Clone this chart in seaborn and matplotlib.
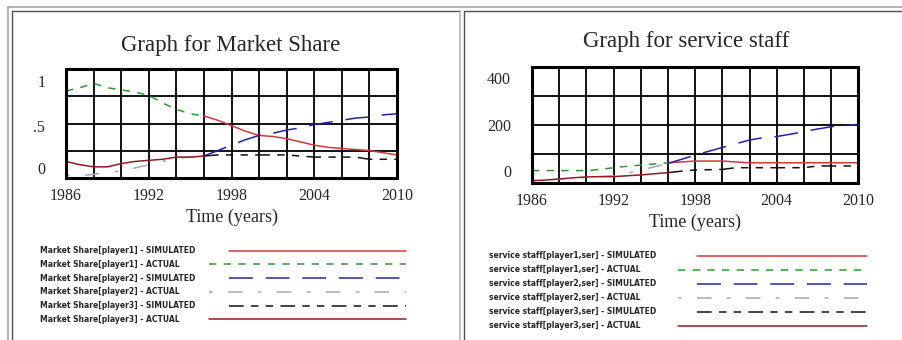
import numpy as np
import matplotlib
matplotlib.use("Agg")
import matplotlib.pyplot as plt
from matplotlib.lines import Line2D
from matplotlib.transforms import ScaledTranslation
import seaborn as sns

# -----------------------
# Data
# -----------------------
years_actual = list(range(1986, 1997))
years_sim = list(range(1996, 2011))

share_p1_actual = [0.80, 0.83, 0.87, 0.83, 0.81, 0.79, 0.76, 0.69, 0.63, 0.59, 0.57]
share_p2_actual = [0.02, 0.02, 0.03, 0.05, 0.06, 0.09, 0.12, 0.15, 0.18, 0.19, 0.20]
share_p3_actual = [0.15, 0.12, 0.10, 0.10, 0.13, 0.15, 0.16, 0.17, 0.19, 0.19, 0.20]
share_p1_sim = [0.57, 0.53, 0.48, 0.43, 0.39, 0.38, 0.36, 0.33, 0.30, 0.28, 0.27, 0.26, 0.25, 0.23, 0.21]
share_p2_sim = [0.20, 0.25, 0.30, 0.35, 0.39, 0.41, 0.44, 0.46, 0.49, 0.51, 0.53, 0.55, 0.56, 0.58, 0.59]
share_p3_sim = [0.20, 0.21, 0.21, 0.21, 0.21, 0.21, 0.21, 0.20, 0.19, 0.19, 0.19, 0.19, 0.17, 0.17, 0.17]

staff_p1_actual = [42, 42, 42, 42, 42, 46, 52, 57, 61, 65, 69]
staff_p2_actual = [7, 9, 12, 15, 18, 21, 24, 33, 44, 55, 67]
staff_p3_actual = [7, 9, 13, 17, 20, 21, 21, 24, 27, 31, 35]
staff_p1_sim = [69, 72, 75, 75, 75, 72, 69, 69, 69, 69, 69, 69, 69, 69, 69]
staff_p2_sim = [67, 81, 96, 109, 122, 135, 148, 156, 160, 168, 177, 186, 194, 198, 202]
staff_p3_sim = [35, 40, 44, 45, 46, 52, 52, 52, 52, 52, 52, 58, 58, 58, 58]

share_labels = ["Market Share[player1] - SIMULATED", "Market Share[player1] - ACTUAL",
                "Market Share[player2] - SIMULATED", "Market Share[player2] - ACTUAL",
                "Market Share[player3] - SIMULATED", "Market Share[player3] - ACTUAL"]
staff_labels = ["service staff[player1,ser] - SIMULATED", "service staff[player1,ser] - ACTUAL",
                "service staff[player2,ser] - SIMULATED", "service staff[player2,ser] - ACTUAL",
                "service staff[player3,ser] - SIMULATED", "service staff[player3,ser] - ACTUAL"]
x_ticks = [1986, 1992, 1998, 2004, 2010]

# line styles, same order as the labels
styles = [
    dict(color="#d03a3a", linestyle="-"),
    dict(color="#2e9a2e", linestyle=(0, (4.8, 4.8))),
    dict(color="#2323a8", linestyle=(0, (15.6, 8.4))),
    dict(color="#a8a8a8", linestyle=(0, (2.4, 10, 9.6, 10))),
    dict(color="#111111", linestyle=(0, (9.6, 4.8, 4.8, 4.8, 4.8, 4.8))),
    dict(color="#8e1c24", linestyle="-"),
]

# -----------------------
# Figure
# -----------------------
sns.set_style("white")
plt.rcParams["font.family"] = ["Liberation Serif", "DejaVu Serif"]

W, H = 902, 340
fig = plt.figure(figsize=(W / 100, H / 100), dpi=100)


def px_axes(x0, y0, x1, y1):
    return fig.add_axes([x0 / W, 1 - y1 / H, (x1 - x0) / W, (y1 - y0) / H])


def fig_line(xs, ys, color, lw):
    fig.add_artist(Line2D([x / W for x in xs], [1 - y / H for y in ys],
                          transform=fig.transFigure, color=color, lw=lw))


# table borders of the screenshot
fig_line([8, 8], [7, 340], "#a6a6a6", 1.2)
fig_line([8, 902], [7, 7], "#a6a6a6", 1.2)
fig_line([12, 12], [11, 340], "#505050", 1.0)
fig_line([12, 460], [11, 11], "#505050", 1.0)
fig_line([460, 460], [11, 340], "#b4b4b4", 1.2)
fig_line([464, 464], [11, 340], "#505050", 1.0)
fig_line([464, 902], [11, 11], "#505050", 1.0)


def draw_chart(ax, actual, sim, ymax, ylabels, offsets):
    for i, s in enumerate([sim[0], actual[0], sim[1], actual[1], sim[2], actual[2]]):
        xs = years_sim if i % 2 == 0 else years_actual
        sns.lineplot(x=xs, y=s, ax=ax, linewidth=1.1, **styles[i])
    ax.set_xlim(1986, 2010)
    ax.set_ylim(0, ymax)
    ax.set_xticks(x_ticks)
    ax.set_xticks(np.arange(1986, 2011, 2), minor=True)
    ax.set_yticks([0, ymax / 2, ymax])
    ax.set_yticklabels(ylabels)
    ax.set_yticks([ymax / 4, 3 * ymax / 4], minor=True)
    ax.grid(True, which="both", color="black", linewidth=1.3)
    ax.tick_params(which="both", length=0)
    ax.tick_params(axis="y", pad=15, labelsize=11.5)
    ax.tick_params(axis="x", pad=7.5, labelsize=11.5)
    for sp in ax.spines.values():
        sp.set_visible(True)
        sp.set_color("black")
        sp.set_linewidth(2.2)
    ax.set_xlabel("Time (years)", fontsize=13, labelpad=3.5)
    ax.set_ylabel("")
    for lab, dy in zip(ax.get_yticklabels(), offsets):
        lab.set_transform(lab.get_transform() + ScaledTranslation(0, dy / 100, fig.dpi_scale_trans))


def draw_legend(ax, labels, starts_sim, starts_act):
    ax.set_xlim(0, 1)
    ax.set_ylim(len(labels) - 1, 0)
    ax.set_axis_off()
    for i, lab in enumerate(labels):
        ax.text(0, i, lab, va="center", ha="left", fontsize=5.5, fontweight="bold",
                family=["DejaVu Sans"])
        x0 = starts_sim if i % 2 == 0 else starts_act
        ax.plot([x0, 1], [i, i], linewidth=1.1, clip_on=False, **styles[i])


ax1 = px_axes(66, 69.3, 397, 177.7)
draw_chart(ax1, [share_p1_actual, share_p2_actual, share_p3_actual],
           [share_p1_sim, share_p2_sim, share_p3_sim], 1.0, ["0", ".5", "1"], [9.5, -3, -12])
fig.text(231 / W, 1 - 45 / H, "Graph for Market Share", ha="center", va="center", fontsize=16.5)

ax2 = px_axes(532, 67.3, 858.3, 182.7)
draw_chart(ax2, [staff_p1_actual, staff_p2_actual, staff_p3_actual],
           [staff_p1_sim, staff_p2_sim, staff_p3_sim], 400, ["0", "200", "400"], [12, 0, -11])
fig.text(686 / W, 1 - 42 / H, "Graph for service staff", ha="center", va="center", fontsize=16.5)

leg1 = px_axes(40, 250.7, 406, 319.3)
draw_legend(leg1, share_labels, (229 - 40) / 366, (209 - 40) / 366)

leg2 = px_axes(489, 255.7, 867, 325.7)
draw_legend(leg2, staff_labels, (697 - 489) / 378, (678 - 489) / 378)

fig.savefig("out.png", dpi=100, facecolor="white")
